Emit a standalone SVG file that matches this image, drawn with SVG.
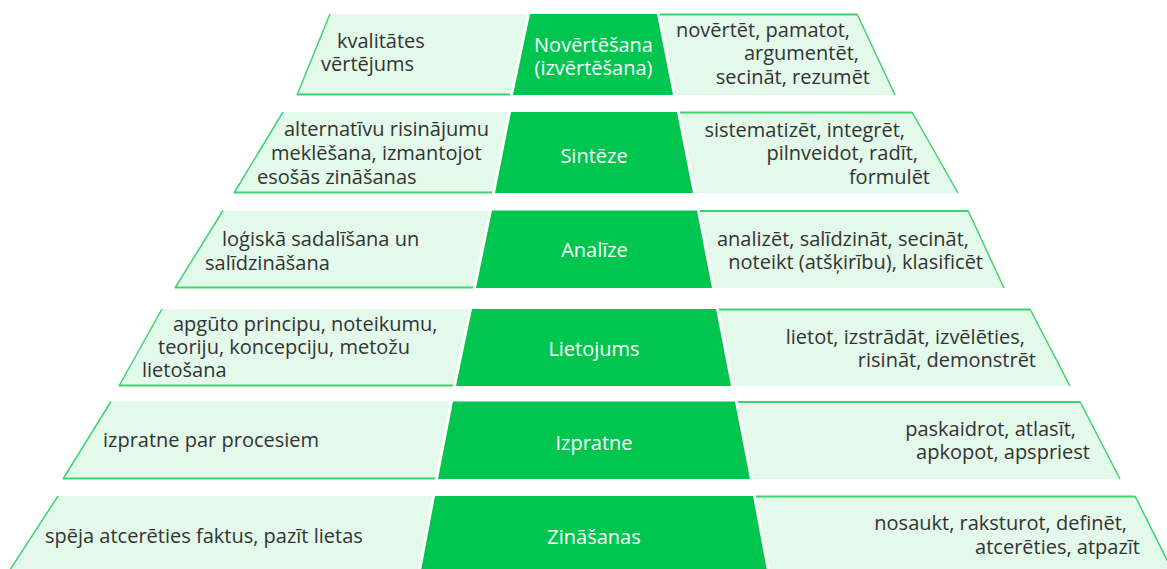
<svg xmlns="http://www.w3.org/2000/svg" width="1167" height="569" viewBox="0 0 1167 569">
<style>
.lite{fill:#e3f9e9;stroke:none}
.edge{fill:none;stroke:#3fd273;stroke-width:1.5}
.base{fill:none;stroke:#3fd273;stroke-width:2}
.dark{fill:#00c650;stroke:none}
text{font-family:"Open Sans","Liberation Sans",sans-serif;font-size:20px}
.t{fill:#333333}
.w{fill:#ffffff;text-anchor:middle}
.r{text-anchor:end}
</style>
<rect width="1167" height="569" fill="#ffffff"/>
<g id="connectors"/>

<!-- Row 1 -->
<g id="r1-left">
<polygon class="lite" points="330,14 527,14 510,95 297,95"/>
<polyline class="edge" points="330,14 297,95"/>
<polyline class="base" points="297,94.5 510,94.5"/>
<text class="t" x="337" y="47.5">kvalitātes</text>
<text class="t" x="321" y="71">vērtējums</text>
</g>
<g id="r1-level">
<polygon class="dark" points="530,14 657,14 673,95 513,95"/>
<text class="w" x="593.5" y="52">Novērtēšana</text>
<text class="w" x="593.5" y="75">(izvērtēšana)</text>
</g>
<g id="r1-right">
<polygon class="lite" points="660,14 857,14 895,95 676,95"/>
<polyline class="base" points="660,14.5 857,14.5"/>
<polyline class="edge" points="857,14 895,95"/>
<text class="t r" x="850" y="36.5">novērtēt, pamatot,</text>
<text class="t r" x="859" y="60">argumentēt,</text>
<text class="t r" x="870" y="83.5">secināt, rezumēt</text>
</g>

<!-- Row 2 -->
<g id="r2-left">
<polygon class="lite" points="283,112 508,112 492,193 234,193"/>
<polyline class="edge" points="283,112 234,193"/>
<polyline class="base" points="234,192.5 492,192.5"/>
<text class="t" x="284" y="136">alternatīvu risinājumu</text>
<text class="t" x="271" y="160">meklēšana, izmantojot</text>
<text class="t" x="257" y="184">esošās zināšanas</text>
</g>
<g id="r2-level">
<polygon class="dark" points="511,112 677,112 693,193 495,193"/>
<text class="w" x="594" y="162.5">Sintēze</text>
</g>
<g id="r2-right">
<polygon class="lite" points="680,112 912,112 958,193 696,193"/>
<polyline class="base" points="680,112.5 912,112.5"/>
<polyline class="edge" points="912,112 958,193"/>
<text class="t r" x="905" y="136.5">sistematizēt, integrēt,</text>
<text class="t r" x="918" y="160">pilnveidot, radīt,</text>
<text class="t r" x="930" y="184">formulēt</text>
</g>

<!-- Row 3 -->
<g id="r3-left">
<polygon class="lite" points="223,210.5 489,210.5 473,288 175,288"/>
<polyline class="edge" points="223,210.5 175,288"/>
<polyline class="base" points="175,287.5 473,287.5"/>
<text class="t" x="222" y="245.5">loģiskā sadalīšana un</text>
<text class="t" x="205" y="269.5">salīdzināšana</text>
</g>
<g id="r3-level">
<polygon class="dark" points="492,210.5 697,210.5 712,288 476,288"/>
<text class="w" x="594.5" y="257">Analīze</text>
</g>
<g id="r3-right">
<polygon class="lite" points="700,210.5 968,210.5 1004,288 715,288"/>
<polyline class="base" points="700,211 968,211"/>
<polyline class="edge" points="968,210.5 1004,288"/>
<text class="t r" x="969" y="245.5">analizēt, salīdzināt, secināt,</text>
<text class="t r" x="983" y="269">noteikt (atšķirību), klasificēt</text>
</g>

<!-- Row 4 -->
<g id="r4-left">
<polygon class="lite" points="162,309 469,309 453,386 119,386"/>
<polyline class="edge" points="162,309 119,386"/>
<polyline class="base" points="119,385.5 453,385.5"/>
<text class="t" x="173" y="330.5">apgūto principu, noteikumu,</text>
<text class="t" x="158" y="354">teoriju, koncepciju, metožu</text>
<text class="t" x="142" y="377">lietošana</text>
</g>
<g id="r4-level">
<polygon class="dark" points="472,309 716,309 731,386 456,386"/>
<text class="w" x="594" y="356">Lietojums</text>
</g>
<g id="r4-right">
<polygon class="lite" points="719,309 1030,309 1070,386 734,386"/>
<polyline class="base" points="719,309.5 1030,309.5"/>
<polyline class="edge" points="1030,309 1070,386"/>
<text class="t r" x="1025" y="343.5">lietot, izstrādāt, izvēlēties,</text>
<text class="t r" x="1036" y="367">risināt, demonstrēt</text>
</g>

<!-- Row 5 -->
<g id="r5-left">
<polygon class="lite" points="111,401.5 450,401.5 435,479 63,479"/>
<polyline class="edge" points="111,401.5 63,479"/>
<polyline class="base" points="63,478.5 435,478.5"/>
<text class="t" x="103" y="446.5">izpratne par procesiem</text>
</g>
<g id="r5-level">
<polygon class="dark" points="453,401.5 735,401.5 750,479 438,479"/>
<text class="w" x="594" y="450">Izpratne</text>
</g>
<g id="r5-right">
<polygon class="lite" points="738,401.5 1080,401.5 1120,479 753,479"/>
<polyline class="base" points="738,402 1080,402"/>
<polyline class="edge" points="1080,401.5 1120,479"/>
<text class="t r" x="1076" y="435.5">paskaidrot, atlasīt,</text>
<text class="t r" x="1090" y="459">apkopot, apspriest</text>
</g>

<!-- Row 6 -->
<g id="r6-left">
<polygon class="lite" points="58,496 432,496 417,576 6,576"/>
<polyline class="edge" points="58,496 6,576"/>
<text class="t" x="45" y="543">spēja atcerēties faktus, pazīt lietas</text>
</g>
<g id="r6-level">
<polygon class="dark" points="435,496 753,496 768,576 420,576"/>
<text class="w" x="594" y="544">Zināšanas</text>
</g>
<g id="r6-right">
<polygon class="lite" points="756,496 1135,496 1175,576 771,576"/>
<polyline class="base" points="756,496.5 1135,496.5"/>
<polyline class="edge" points="1135,496 1175,576"/>
<text class="t r" x="1127" y="530">nosaukt, raksturot, definēt,</text>
<text class="t r" x="1140" y="554">atcerēties, atpazīt</text>
</g>
</svg>
